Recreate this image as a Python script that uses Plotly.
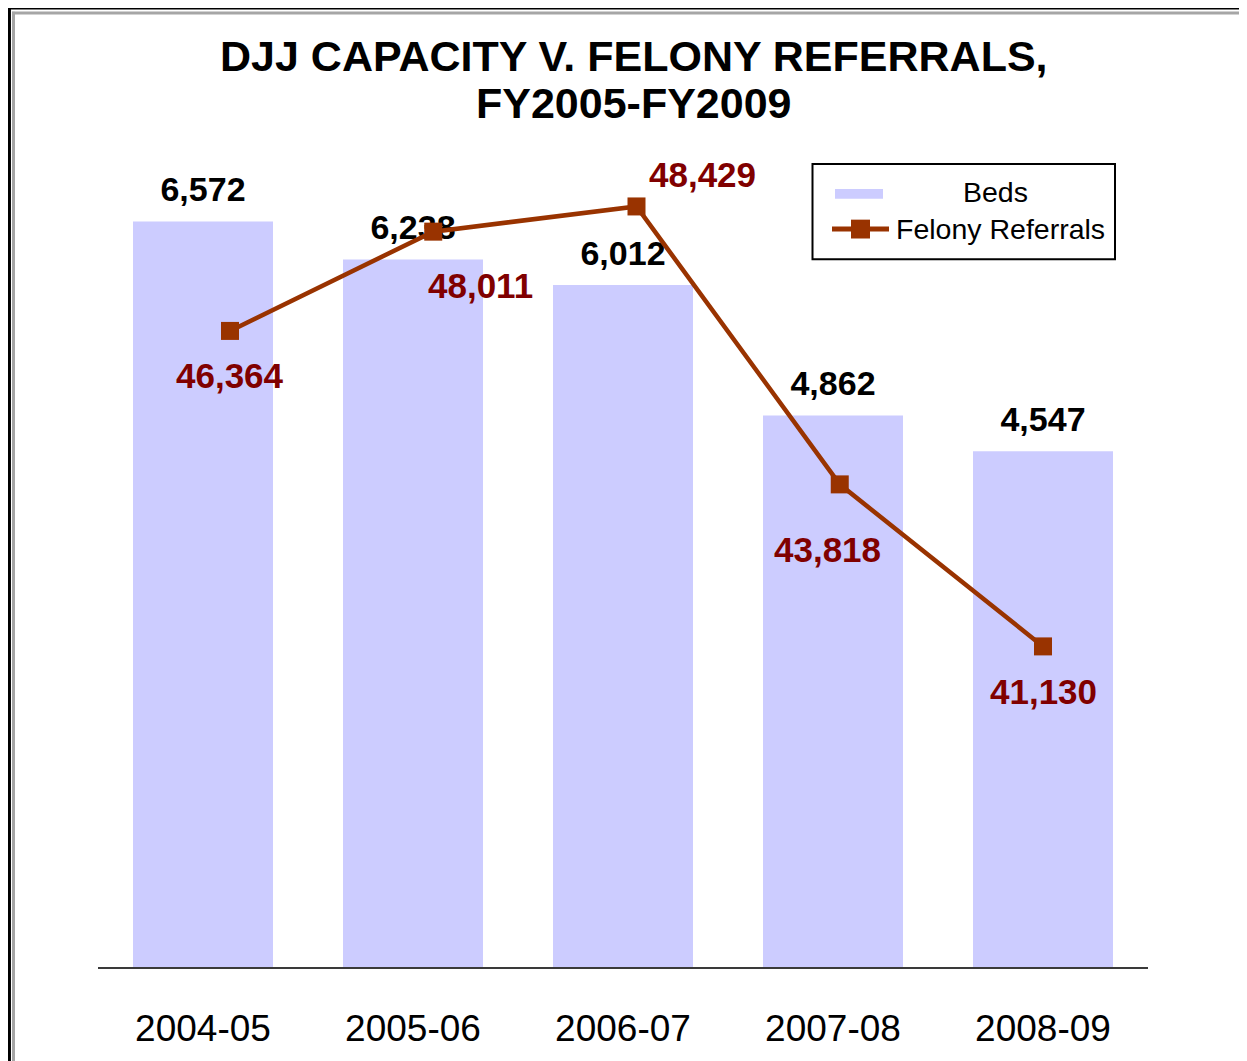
import plotly.graph_objects as go

# ---- data ----
years = ["2004-05", "2005-06", "2006-07", "2007-08", "2008-09"]
beds = [6572, 6238, 6012, 4862, 4547]
felony_referrals = [46364, 48011, 48429, 43818, 41130]

# ---- layout constants (pixels, in screenshot coordinates) ----
OFF = 8  # page body margin offset
W, H = 1247 - OFF, 1061 - OFF
L, R, T, B = 98 - OFF, 99, 173 - OFF, 88
PW, PH = W - L - R, H - T - B
FONT = "Arial, 'Liberation Sans', sans-serif"
BED_COLOR = "#CCCCFF"
LINE_COLOR = "#993300"
LABEL_RED = "#800000"


def px_x(px):
    return (px - OFF - L) / PW


def px_y(py):
    return (H - B - (py - OFF)) / PH


fig = go.Figure()

fig.add_trace(go.Bar(
    x=years, y=beds, name="Beds",
    marker=dict(color=BED_COLOR, line=dict(width=0)),
    showlegend=False, hoverinfo="x+y",
))

# bed value labels (drawn under the line)
fig.add_trace(go.Scatter(
    x=years, y=beds, mode="markers+text",
    text=[f"{v:,}" for v in beds], textposition="top center",
    textfont=dict(family=FONT, size=34, color="black", weight="bold"),
    marker=dict(size=17, opacity=0),
    showlegend=False, hoverinfo="skip",
))

fig.add_trace(go.Scatter(
    x=years, y=felony_referrals, name="Felony Referrals",
    xaxis="x2", yaxis="y2", mode="lines+markers",
    line=dict(color=LINE_COLOR, width=4.5),
    marker=dict(symbol="square", size=18, color=LINE_COLOR),
    showlegend=False,
))

# red data labels for felony referrals
red_shifts = [(0, -45), (47, -54), (66, 32), (-12, -65), (0, -45)]
annotations = []
for yr, v, (dx, dy) in zip(years, felony_referrals, red_shifts):
    annotations.append(dict(
        x=yr, y=v, xref="x2", yref="y2", text=f"{v:,}", showarrow=False,
        xshift=dx, yshift=dy, xanchor="center", yanchor="middle",
        font=dict(family=FONT, size=35, color=LABEL_RED, weight="bold"),
    ))

# title (two lines)
for txt, py in [("DJJ CAPACITY V. FELONY REFERRALS,", 55), ("FY2005-FY2009", 102)]:
    annotations.append(dict(
        x=px_x(633.5), y=px_y(py), xref="paper", yref="paper", text=txt,
        showarrow=False, xanchor="center", yanchor="middle",
        font=dict(family=FONT, size=43, color="black", weight="bold"),
    ))

# legend texts
annotations.append(dict(
    x=px_x(995.5), y=px_y(192), xref="paper", yref="paper", text="Beds",
    showarrow=False, xanchor="center", yanchor="middle",
    font=dict(family=FONT, size=28.5, color="black"),
))
annotations.append(dict(
    x=px_x(894), y=px_y(229), xref="paper", yref="paper", text="Felony Referrals",
    showarrow=False, xanchor="left", yanchor="middle",
    font=dict(family=FONT, size=28.5, color="black"),
))

shapes = [
    # legend box
    dict(type="rect", xref="paper", yref="paper",
         x0=px_x(812.5), x1=px_x(1115), y0=px_y(164), y1=px_y(260),
         line=dict(color="black", width=2), fillcolor="white", layer="below"),
    # beds swatch
    dict(type="rect", xref="paper", yref="paper",
         x0=px_x(835), x1=px_x(883), y0=px_y(189), y1=px_y(199),
         line=dict(width=0), fillcolor=BED_COLOR),
    # line swatch
    dict(type="line", xref="paper", yref="paper",
         x0=px_x(832), x1=px_x(889), y0=px_y(229.5), y1=px_y(229.5),
         line=dict(color=LINE_COLOR, width=5)),
    dict(type="rect", xref="paper", yref="paper",
         x0=px_x(851), x1=px_x(870), y0=px_y(220), y1=px_y(239),
         line=dict(width=0), fillcolor=LINE_COLOR),
    # outer frame: black line
    dict(type="line", xref="paper", yref="paper",
         x0=px_x(9.2), x1=px_x(9.2), y0=px_y(5.2), y1=px_y(1070),
         line=dict(color="black", width=3.5)),
    dict(type="line", xref="paper", yref="paper",
         x0=px_x(7.5), x1=px_x(1255), y0=px_y(6.7), y1=px_y(6.7),
         line=dict(color="black", width=3)),
    # inner frame: gray line
    dict(type="line", xref="paper", yref="paper",
         x0=px_x(13.5), x1=px_x(13.5), y0=px_y(10.5), y1=px_y(1070),
         line=dict(color="#a6a6a6", width=3)),
    dict(type="line", xref="paper", yref="paper",
         x0=px_x(12), x1=px_x(1255), y0=px_y(11.8), y1=px_y(11.8),
         line=dict(color="#a6a6a6", width=3)),
]

fig.update_layout(
    width=W, height=H,
    margin=dict(l=L, r=R, t=T, b=B, pad=0),
    paper_bgcolor="white", plot_bgcolor="white",
    bargap=1 / 3,
    showlegend=False,
    font=dict(family=FONT, color="black"),
    xaxis=dict(
        type="category", range=[-0.5, 4.5], showgrid=False, zeroline=False,
        showline=True, linecolor="#3a3a3a", linewidth=1.5,
        ticks="", ticklabelstandoff=28,
        tickfont=dict(family=FONT, size=37, color="black"),
        fixedrange=True,
    ),
    yaxis=dict(range=[0, 7000], visible=False, fixedrange=True),
    xaxis2=dict(
        type="category", overlaying="x", range=[-0.6494, 4.5166],
        visible=False, fixedrange=True,
    ),
    yaxis2=dict(
        overlaying="y", side="right", range=[35811, 48984],
        visible=False, fixedrange=True,
    ),
    annotations=annotations,
    shapes=shapes,
)

fig.write_html("out.html")
